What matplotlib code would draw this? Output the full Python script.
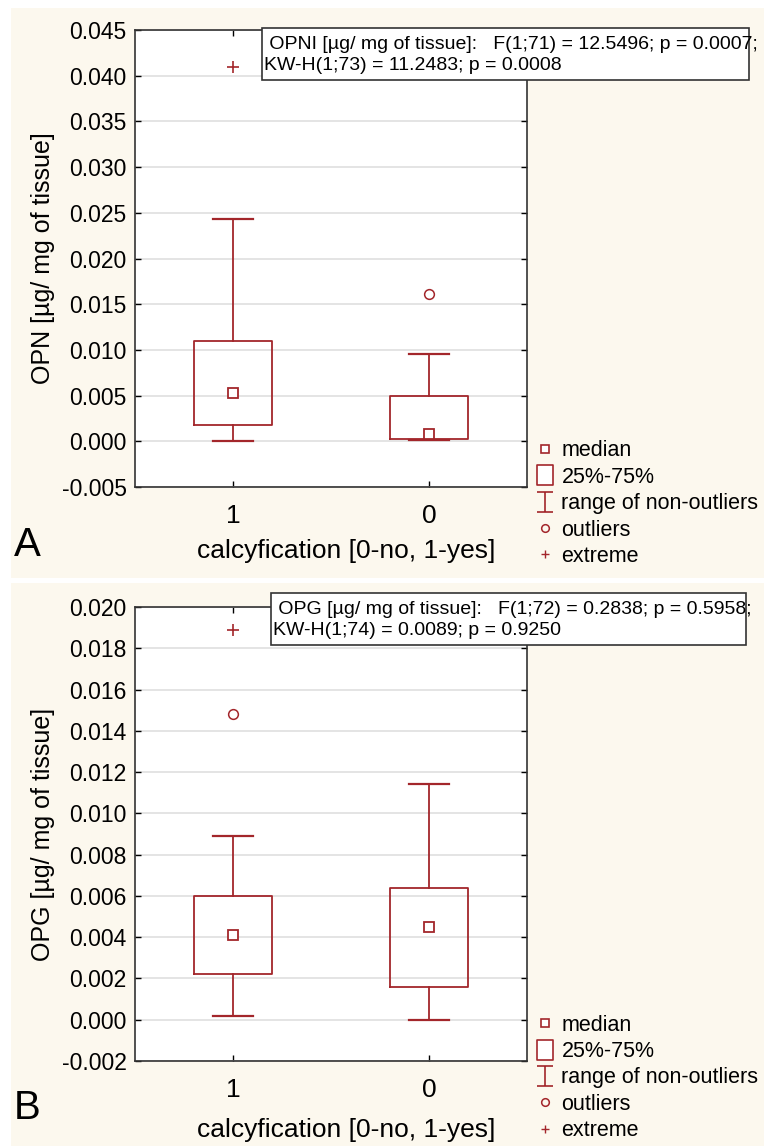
import numpy as np
import matplotlib
matplotlib.use('Agg')
import matplotlib.pyplot as plt
from matplotlib.lines import Line2D
from matplotlib.patches import Rectangle
from matplotlib.path import Path

# group labels on the x axis
groups = ['1', '0']

# panel A - OPN
opn_whislo = [0.0000, 0.0001]
opn_q1 = [0.0018, 0.0002]
opn_med = [0.0053, 0.0008]
opn_q3 = [0.0110, 0.0050]
opn_whishi = [0.0243, 0.0095]
opn_outliers = [[], [0.0161]]
opn_extremes = [[0.0410], []]
opn_ticks = [-0.005, 0.0, 0.005, 0.010, 0.015, 0.020, 0.025, 0.030, 0.035, 0.040, 0.045]
opn_note = ' OPNI [µg/ mg of tissue]:   F(1;71) = 12.5496; p = 0.0007;\nKW-H(1;73) = 11.2483; p = 0.0008'

# panel B - OPG
opg_whislo = [0.0002, 0.0000]
opg_q1 = [0.0022, 0.0016]
opg_med = [0.0041, 0.0045]
opg_q3 = [0.0060, 0.0064]
opg_whishi = [0.0089, 0.0114]
opg_outliers = [[0.0148], []]
opg_extremes = [[0.0189], []]
opg_ticks = [-0.002, 0.0, 0.002, 0.004, 0.006, 0.008, 0.010, 0.012, 0.014, 0.016, 0.018, 0.020]
opg_note = ' OPG [µg/ mg of tissue]:   F(1;72) = 0.2838; p = 0.5958;\nKW-H(1;74) = 0.0089; p = 0.9250'

legend_labels = ['median', '25%-75%', 'range of non-outliers', 'outliers', 'extreme']

RED = '#a3262b'
BEIGE = '#fcf8ee'
W, H = 764, 1146

plt.rcParams['font.family'] = ['Liberation Sans', 'DejaVu Sans']

# I-beam shaped marker for the whisker legend entry
whisker_path = Path([(-0.8, -1), (0.8, -1), (0, -1), (0, 1), (-0.8, 1), (0.8, 1)],
                    [Path.MOVETO, Path.LINETO, Path.MOVETO, Path.LINETO, Path.MOVETO, Path.LINETO])
# tall rectangle for the 25%-75% legend entry
box_path = Path([(-0.83, -1), (0.83, -1), (0.83, 1), (-0.83, 1), (-0.83, -1)],
                [Path.MOVETO, Path.LINETO, Path.LINETO, Path.LINETO, Path.CLOSEPOLY])


def draw_panel(fig, rect, whislo, q1, med, q3, whishi, outliers, extremes,
               ticks, ylabel, note, note_box, letter, letter_y, xlab_y):
    ax = fig.add_axes(rect)
    ax.set_facecolor('white')
    stats = []
    for i in range(len(groups)):
        stats.append({'whislo': whislo[i], 'q1': q1[i], 'med': med[i], 'q3': q3[i],
                      'whishi': whishi[i], 'fliers': []})
    pos = np.arange(len(groups))
    ax.bxp(stats, positions=pos, widths=0.4, showfliers=False,
           boxprops=dict(color=RED, lw=1.3),
           whiskerprops=dict(color=RED, lw=1.3),
           capprops=dict(color=RED, lw=1.6),
           medianprops=dict(visible=False),
           capwidths=0.2, zorder=3)
    # median as a small hollow square
    ax.plot(pos, med, ls='none', marker='s', ms=7, mfc='white', mec=RED, mew=1.3, zorder=4)
    for i in range(len(groups)):
        if outliers[i]:
            ax.plot([pos[i]] * len(outliers[i]), outliers[i], ls='none', marker='o',
                    ms=7, mfc='none', mec=RED, mew=1.1, zorder=4)
        if extremes[i]:
            ax.plot([pos[i]] * len(extremes[i]), extremes[i], ls='none', marker='+',
                    ms=8, color=RED, mew=1.2, zorder=4)
    ax.set_xlim(-0.5, 1.5)
    ax.set_ylim(ticks[0], ticks[-1])
    ax.set_yticks(ticks)
    ax.set_yticklabels(['%.3f' % t for t in ticks], fontsize=16.5)
    ax.set_xticks(pos)
    ax.set_xticklabels(groups, fontsize=19)
    ax.yaxis.grid(True, color='#dcdcdc', lw=1.1)
    ax.set_axisbelow(True)
    ax.tick_params(direction='in', length=4, top=True, right=True, width=1)
    ax.tick_params(axis='x', pad=12)
    ax.tick_params(axis='y', pad=6)
    for s in ax.spines.values():
        s.set_color('#333333')
        s.set_linewidth(1.2)
    ax.set_ylabel(ylabel, fontsize=18, labelpad=5)
    ax.set_xlabel('calcyfication [0-no, 1-yes]', fontsize=19)
    ax.xaxis.set_label_coords(0.538, xlab_y)

    # legend on the right
    handles = [
        Line2D([], [], ls='none', marker='s', ms=6, mfc='white', mec=RED, mew=1.2),
        Line2D([], [], ls='none', marker=box_path, ms=14.5, mfc='white', mec=RED, mew=1.2),
        Line2D([], [], ls='none', marker=whisker_path, ms=15, color=RED, mew=1.2),
        Line2D([], [], ls='none', marker='o', ms=5.5, mfc='none', mec=RED, mew=1.1),
        Line2D([], [], ls='none', marker='+', ms=6, color=RED, mew=1.0),
    ]
    ax.legend(handles, legend_labels, loc='upper left', bbox_to_anchor=(1.022, 0.102),
              frameon=False, fontsize=15.5, handlelength=0.9, handletextpad=0.3,
              labelspacing=0.25, borderaxespad=0, borderpad=0)

    # statistics note box (text runs a bit past the frame, as in the original)
    x0, y0, x1, y1 = note_box
    fig.patches.append(Rectangle((x0 / W, 1 - y1 / H), (x1 - x0) / W, (y1 - y0) / H,
                                 transform=fig.transFigure, fc='white', ec='#333333',
                                 lw=1.2, zorder=9))
    fig.text((x0 + 2) / W, 1 - (y0 + 8) / H, note, fontsize=14, va='top', ha='left',
             linespacing=1.3, zorder=10)
    fig.text(14 / W, 1 - letter_y / H, letter, fontsize=29, va='center', ha='left')
    return ax


def main():
    fig = plt.figure(figsize=(W / 100, H / 100), dpi=100, facecolor='white')
    # beige panel backgrounds
    fig.patches.append(Rectangle((11 / W, 1 - 578 / H), 1, (578 - 8) / H,
                                 transform=fig.transFigure, fc=BEIGE, ec='none', zorder=-10))
    fig.patches.append(Rectangle((11 / W, 0), 1, (1146 - 583) / H,
                                 transform=fig.transFigure, fc=BEIGE, ec='none', zorder=-10))

    draw_panel(fig, [135 / W, 1 - 487 / H, 392 / W, 457 / H],
               opn_whislo, opn_q1, opn_med, opn_q3, opn_whishi, opn_outliers, opn_extremes,
               opn_ticks, 'OPN [µg/ mg of tissue]', opn_note, (262, 28, 749, 80), 'A', 545,
               -0.114)
    draw_panel(fig, [135 / W, 1 - 1061 / H, 392 / W, 454 / H],
               opg_whislo, opg_q1, opg_med, opg_q3, opg_whishi, opg_outliers, opg_extremes,
               opg_ticks, 'OPG [µg/ mg of tissue]', opg_note, (271, 593, 746, 645), 'B', 1108,
               -0.126)
    fig.savefig('out.png', dpi=100, facecolor=fig.get_facecolor())


if __name__ == "__main__":
    main()
